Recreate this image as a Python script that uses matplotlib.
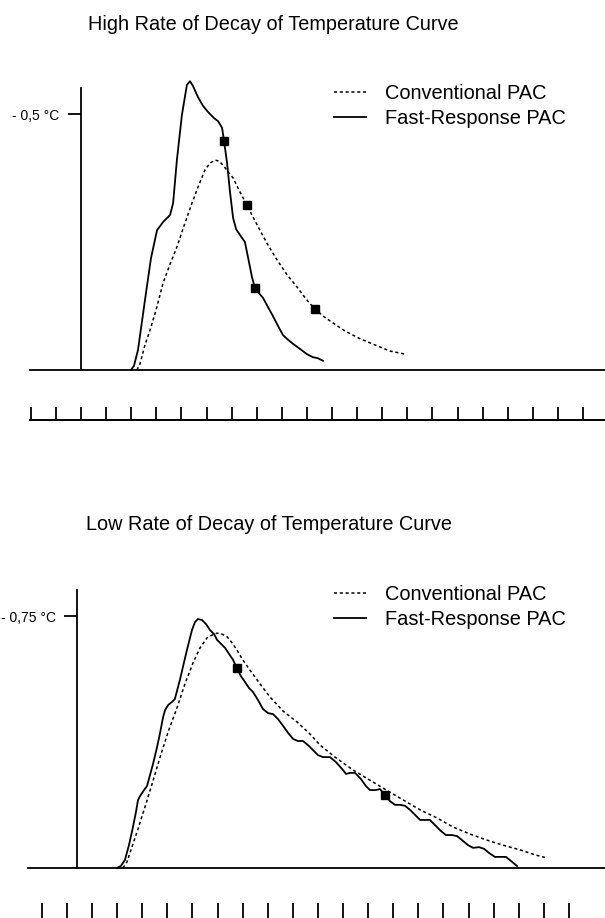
import matplotlib
matplotlib.use("Agg")
import matplotlib.pyplot as plt

plt.rcParams['font.family'] = ['Liberation Sans', 'DejaVu Sans']

# ---------------- data (time in ruler-tick units, temperature drop in °C) ----------------
top_title = "High Rate of Decay of Temperature Curve"
bottom_title = "Low Rate of Decay of Temperature Curve"
legend_labels = ["Conventional PAC", "Fast-Response PAC"]

# Top panel: high rate of decay
top_fast_x = [1.99, 2.11, 2.27, 2.55, 2.79, 3.03, 3.27, 3.55, 3.67, 3.82, 4.02, 4.22, 4.34, 4.46,
              4.66, 4.86, 5.06, 5.30, 5.46, 5.62, 5.70, 5.82, 5.94, 6.06, 6.18, 6.33, 6.53, 6.65,
              6.81, 6.93, 7.09, 7.25, 7.45, 7.65, 7.85, 8.05, 8.25, 8.45, 8.73, 9.00, 9.24, 9.44, 9.64]
top_fast_y = [0.000, 0.008, 0.039, 0.137, 0.219, 0.273, 0.289, 0.303, 0.326, 0.410, 0.498, 0.557,
              0.564, 0.555, 0.533, 0.516, 0.504, 0.492, 0.486, 0.473, 0.447, 0.404, 0.346, 0.297,
              0.275, 0.264, 0.250, 0.221, 0.182, 0.160, 0.150, 0.141, 0.123, 0.105, 0.086, 0.068,
              0.059, 0.051, 0.041, 0.031, 0.025, 0.023, 0.018]
top_conv_x = [2.23, 2.35, 2.55, 2.75, 2.99, 3.27, 3.55, 3.82, 4.10, 4.42, 4.66, 4.94, 5.14, 5.34,
              5.50, 5.66, 5.86, 6.06, 6.33, 6.61, 6.85, 7.13, 7.45, 7.81, 8.21, 8.61, 8.96, 9.32,
              9.68, 10.04, 10.52, 11.12, 11.71, 12.31, 12.91]
top_conv_y = [0.000, 0.012, 0.049, 0.078, 0.117, 0.170, 0.207, 0.240, 0.281, 0.326, 0.357, 0.391,
              0.404, 0.410, 0.408, 0.400, 0.387, 0.375, 0.348, 0.322, 0.299, 0.273, 0.244, 0.215,
              0.186, 0.162, 0.139, 0.119, 0.104, 0.092, 0.076, 0.061, 0.049, 0.037, 0.031]
top_fast_mark_x = [5.70, 6.93]
top_fast_mark_y = [0.447, 0.160]
top_conv_mark_x = [6.61, 9.32]
top_conv_mark_y = [0.322, 0.119]
top_ytick = [0.5]
top_ytick_label = ["- 0,5 °C"]
top_ruler_ticks = list(range(-2, 21))

# Bottom panel: low rate of decay
bot_fast_x = [1.59, 1.75, 1.91, 2.07, 2.23, 2.35, 2.43, 2.51, 2.67, 2.79, 2.91, 3.03, 3.19, 3.31,
              3.43, 3.51, 3.63, 3.78, 3.90, 4.10, 4.38, 4.58, 4.70, 4.82, 4.98, 5.14, 5.30, 5.46,
              5.58, 5.74, 5.90, 6.06, 6.22, 6.37, 6.53, 6.69, 6.85, 7.01, 7.21, 7.41, 7.61, 7.81,
              8.01, 8.21, 8.41, 8.61, 8.80, 9.00, 9.20, 9.40, 9.60, 9.80, 10.08, 10.32, 10.56,
              10.72, 10.88, 11.08, 11.31, 11.51, 11.67, 11.91, 12.07, 12.27, 12.47, 12.67, 12.87,
              13.07, 13.27, 13.47, 13.67, 13.86, 14.06, 14.30, 14.50, 14.70, 14.94, 15.14, 15.34,
              15.58, 15.78, 16.02, 16.22, 16.41, 16.65, 16.89, 17.09, 17.29, 17.53]
bot_fast_y = [0.000, 0.006, 0.024, 0.068, 0.122, 0.167, 0.202, 0.214, 0.232, 0.244, 0.277, 0.310,
              0.360, 0.402, 0.449, 0.470, 0.485, 0.494, 0.503, 0.560, 0.649, 0.708, 0.732, 0.741,
              0.738, 0.726, 0.708, 0.696, 0.679, 0.667, 0.655, 0.637, 0.619, 0.595, 0.571, 0.554,
              0.536, 0.524, 0.500, 0.473, 0.461, 0.458, 0.443, 0.423, 0.402, 0.384, 0.378, 0.378,
              0.366, 0.351, 0.336, 0.330, 0.330, 0.315, 0.295, 0.280, 0.283, 0.283, 0.265, 0.244,
              0.232, 0.232, 0.235, 0.217, 0.199, 0.188, 0.188, 0.185, 0.173, 0.158, 0.143, 0.143,
              0.143, 0.125, 0.110, 0.098, 0.098, 0.095, 0.083, 0.068, 0.060, 0.062, 0.057, 0.045,
              0.033, 0.033, 0.033, 0.021, 0.006]
bot_conv_x = [1.83, 1.99, 2.15, 2.39, 2.71, 2.99, 3.31, 3.63, 3.98, 4.30, 4.62, 4.90, 5.18, 5.38,
              5.58, 5.78, 5.98, 6.18, 6.37, 6.61, 6.89, 7.29, 7.69, 8.21, 8.76, 9.28, 9.68, 10.28,
              10.99, 11.59, 12.19, 12.87, 13.67, 14.34, 14.98, 15.66, 16.33, 16.97, 17.65, 18.25,
              18.73]
bot_conv_y = [0.000, 0.018, 0.054, 0.107, 0.182, 0.250, 0.330, 0.405, 0.476, 0.548, 0.610, 0.655,
              0.685, 0.693, 0.699, 0.696, 0.688, 0.670, 0.649, 0.619, 0.589, 0.548, 0.509, 0.467,
              0.435, 0.399, 0.366, 0.330, 0.292, 0.265, 0.238, 0.208, 0.173, 0.149, 0.122, 0.101,
              0.083, 0.068, 0.054, 0.039, 0.030]
bot_fast_mark_x = [6.37, 12.27]
bot_fast_mark_y = [0.595, 0.217]
bot_ytick = [0.75]
bot_ytick_label = ["- 0,75 °C"]
bot_ruler_ticks = [-1.4 + k for k in range(22)]

# ---------------- layout ----------------
W, H = 605, 918
fig = plt.figure(figsize=(W / 100, H / 100), dpi=100)
PX_PER_TICK = 25.1
TITLE_FS = 14.3
LEGEND_FS = 14.4
LABEL_FS = 10


def rect(left, top, right, bottom):
    return [left / W, 1 - bottom / H, (right - left) / W, (bottom - top) / H]


def panel(top_px, bottom_px, axis_px, base_px, px_per_deg, axis_top, ruler_start_px,
          title, title_xy, ruler_visible):
    ax = fig.add_axes(rect(0, top_px, W, bottom_px))
    ax.set_xlim((0 - axis_px) / PX_PER_TICK, (W - axis_px) / PX_PER_TICK)
    ax.set_ylim((base_px - bottom_px) / px_per_deg, (base_px - top_px) / px_per_deg)
    ax.patch.set_visible(False)
    for s in ('top', 'right'):
        ax.spines[s].set_visible(False)
    ax.spines['left'].set_position(('data', 0))
    ax.spines['left'].set_bounds(0, axis_top)
    ax.spines['left'].set_linewidth(1.3)
    xs = (ruler_start_px - axis_px) / PX_PER_TICK
    ax.spines['bottom'].set_bounds(xs, (W - axis_px) / PX_PER_TICK)
    ax.spines['bottom'].set_linewidth(1.4)
    ax.spines['bottom'].set_visible(ruler_visible)
    ax.axhline(0, xmin=ruler_start_px / W, xmax=1, color='black', lw=1.3)
    fig.text(title_xy[0] / W, 1 - title_xy[1] / H, title, fontsize=TITLE_FS,
             va='baseline', ha='left')
    return ax


def add_legend(ax, handles, mid_px):
    ax.legend(handles, legend_labels, loc='center left',
              bbox_to_anchor=(334 / W, 1 - mid_px / H), bbox_transform=fig.transFigure,
              frameon=False, fontsize=LEGEND_FS, handlelength=1.6, handletextpad=0.95,
              labelspacing=0.33, borderpad=0, borderaxespad=0)


# Top panel
ax1 = panel(60, 420, 81, 370, 512, 0.551, 30, top_title, (88, 30), True)
l1, = ax1.plot(top_conv_x, top_conv_y, color='black', lw=1.1, ls=(0, (2.0, 1.8)))
l2, = ax1.plot(top_fast_x, top_fast_y, color='black', lw=1.3)
ax1.plot(top_fast_mark_x, top_fast_mark_y, 's', color='black', ms=6)
ax1.plot(top_conv_mark_x, top_conv_mark_y, 's', color='black', ms=6)
ax1.set_xticks(top_ruler_ticks)
ax1.tick_params(axis='x', direction='in', length=9.4, width=1.3, labelbottom=False)
ax1.set_yticks(top_ytick)
ax1.set_yticklabels(top_ytick_label)
ax1.tick_params(axis='y', direction='out', length=9.4, width=1.3, pad=6, labelsize=LABEL_FS)
add_legend(ax1, [l1, l2], 106)

# Bottom panel
ax2 = panel(545, 918, 77, 868, 336, 0.827, 28, bottom_title, (86, 530), False)
m1, = ax2.plot(bot_conv_x, bot_conv_y, color='black', lw=1.1, ls=(0, (2.0, 1.8)))
m2, = ax2.plot(bot_fast_x, bot_fast_y, color='black', lw=1.3)
ax2.plot(bot_fast_mark_x, bot_fast_mark_y, 's', color='black', ms=6)
ax2.set_xticks(bot_ruler_ticks)
ax2.tick_params(axis='x', direction='in', length=11, width=1.3, labelbottom=False)
ax2.set_yticks(bot_ytick)
ax2.set_yticklabels(bot_ytick_label)
ax2.tick_params(axis='y', direction='out', length=9.4, width=1.3, pad=6, labelsize=LABEL_FS)
add_legend(ax2, [m1, m2], 607)

fig.savefig("out.png", dpi=100)
